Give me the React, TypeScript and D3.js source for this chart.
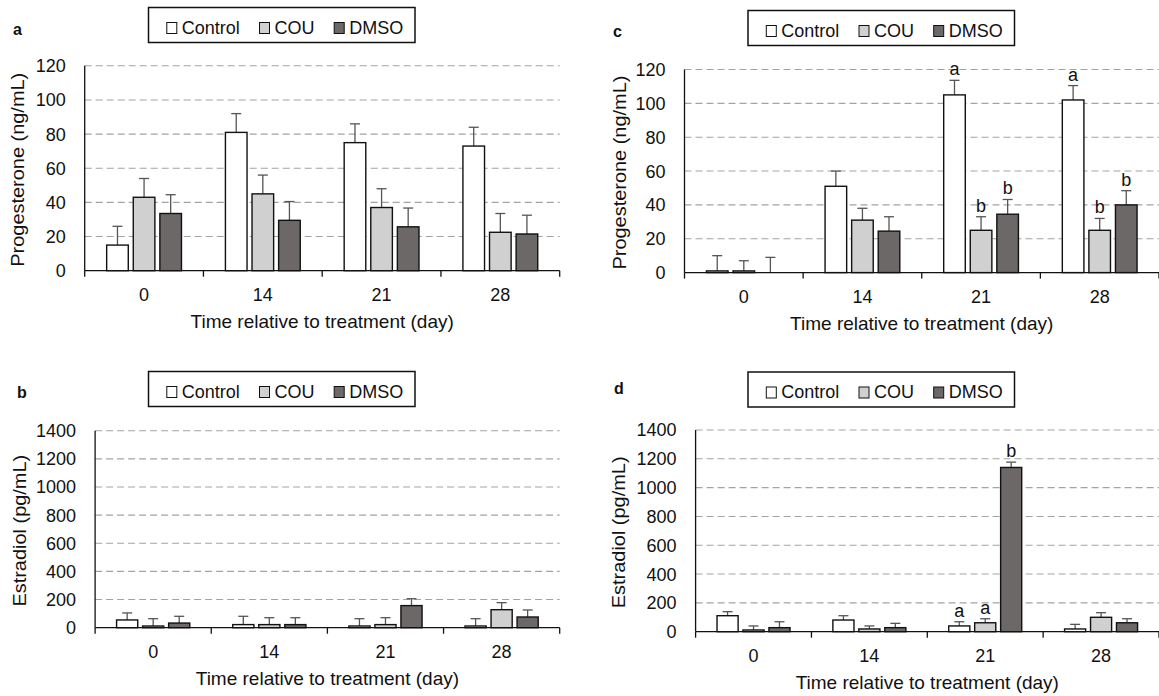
import React from "react";
import * as d3 from "d3";

// Time points and treatment groups shared by every panel
const days = ["0", "14", "21", "28"];
const groups = ["Control", "COU", "DMSO"];

// Panel a – progesterone (ng/mL), means and SE
const aControl = [15, 81, 75, 73];
const aCou = [43, 45, 37, 22.5];
const aDmso = [33.5, 29.5, 25.7, 21.5];
const aControlSe = [11, 11, 11, 11];
const aCouSe = [11, 11, 11, 11];
const aDmsoSe = [11, 11, 11, 11];

// Panel c – progesterone (ng/mL), means and SE
const cControl = [1, 51, 105, 102];
const cCou = [1, 31, 25, 25];
const cDmso = [0, 24.5, 34.5, 40];
const cControlSe = [9, 9, 8.6, 8.5];
const cCouSe = [6, 7, 8, 7];
const cDmsoSe = [9, 8.5, 8.7, 8.4];
const cControlSig = ["", "", "a", "a"];
const cCouSig = ["", "", "b", "b"];
const cDmsoSig = ["", "", "b", "b"];

// Panel b – estradiol (pg/mL), means and SE
const bControl = [55, 22, 12, 12];
const bCou = [12, 22, 22, 128];
const bDmso = [33, 22, 157, 76];
const bControlSe = [50, 59, 52, 52];
const bCouSe = [52, 49, 49, 50];
const bDmsoSe = [48, 49, 49, 50];

// Panel d – estradiol (pg/mL), means and SE
const dControl = [111, 81, 40, 19];
const dCou = [12, 19, 62, 100];
const dDmso = [28, 28, 1140, 62];
const dControlSe = [28, 30, 29, 32];
const dCouSe = [28, 21, 28, 32];
const dDmsoSe = [41, 30, 37, 28];
const dControlSig = ["", "", "a", ""];
const dCouSig = ["", "", "a", ""];
const dDmsoSig = ["", "", "b", ""];

const progTicks = [0, 20, 40, 60, 80, 100, 120];
const estTicks = [0, 200, 400, 600, 800, 1000, 1200, 1400];

const FONT = "'Liberation Sans', Arial, Helvetica, sans-serif";
const fills = ["#ffffff", "#d0d0d0", "#6c6867"];

type PanelProps = {
  letter: string;
  letterX: number;
  letterY: number;
  legendX: number;
  legendY: number;
  axisX: number;
  rightX: number;
  y0: number;
  yTop: number;
  yMax: number;
  ticks: number[];
  yTitle: string;
  yTitleX: number;
  means: number[][];
  ses: number[][];
  sig?: string[][];
};

function Legend({ x, y }: { x: number; y: number }) {
  const offs = [18.3, 111, 185.7];
  return (
    <g>
      <rect x={x} y={y} width={266.5} height={35} fill="#fff" stroke="#111" strokeWidth={1.5} />
      {groups.map((g, i) => (
        <g key={g}>
          <rect
            x={x + offs[i]}
            y={y + 15}
            width={10}
            height={11}
            fill={fills[i]}
            stroke="#111"
            strokeWidth={1}
          />
          <text
            x={x + offs[i] + 15}
            y={y + 26}
            fontFamily={FONT}
            fontSize={18}
            fill="#111"
          >
            {g}
          </text>
        </g>
      ))}
    </g>
  );
}

function Panel(p: PanelProps) {
  const x = d3.scaleBand<string>().domain(days).range([p.axisX, p.rightX]).padding(0);
  const y = d3.scaleLinear().domain([0, p.yMax]).range([p.y0, p.yTop]);
  const bw = x.bandwidth();
  const barW = bw * 0.182;
  const step = bw * 0.224;
  const boundaries = [...days.map((d) => x(d) as number), p.rightX];
  const midY = (p.y0 + p.yTop) / 2 + 1.5;
  const xMid = (p.axisX + p.rightX) / 2;

  return (
    <g>
      <text x={p.letterX} y={p.letterY} fontFamily={FONT} fontSize={16} fontWeight="bold" fill="#111">
        {p.letter}
      </text>
      <Legend x={p.legendX} y={p.legendY} />

      {/* dashed horizontal gridlines */}
      {p.ticks.slice(1).map((t) => (
        <line
          key={t}
          x1={p.axisX}
          x2={p.rightX}
          y1={y(t)}
          y2={y(t)}
          stroke="#a3a3a3"
          strokeWidth={1.1}
          strokeDasharray="7,4"
        />
      ))}

      {/* y tick labels */}
      {p.ticks.map((t) => (
        <text
          key={t}
          x={p.axisX - 19}
          y={y(t)}
          dy="0.36em"
          textAnchor="end"
          fontFamily={FONT}
          fontSize={18}
          fill="#111"
        >
          {t}
        </text>
      ))}

      {/* bars, error bars and significance letters */}
      {days.map((d, j) => {
        const cx = (x(d) as number) + bw / 2;
        return groups.map((g, i) => {
          const bx = cx + (i - 1) * step;
          const v = p.means[i][j];
          const top = y(v + p.ses[i][j]);
          const lab = p.sig ? p.sig[i][j] : "";
          return (
            <g key={d + g}>
              <line x1={bx} x2={bx} y1={y(v)} y2={top} stroke="#555" strokeWidth={1.3} />
              <line x1={bx - 5} x2={bx + 5} y1={top} y2={top} stroke="#555" strokeWidth={1.3} />
              <rect
                x={bx - barW / 2}
                y={y(v)}
                width={barW}
                height={Math.max(0, p.y0 - y(v))}
                fill={fills[i]}
                stroke="#111"
                strokeWidth={1.4}
              />
              {lab && (
                <text
                  x={bx}
                  y={top - 5}
                  textAnchor="middle"
                  fontFamily={FONT}
                  fontSize={18}
                  fill="#111"
                >
                  {lab}
                </text>
              )}
            </g>
          );
        });
      })}

      {/* axes */}
      <line x1={p.axisX} x2={p.axisX} y1={p.yTop} y2={p.y0} stroke="#111" strokeWidth={1.3} />
      <line x1={p.axisX} x2={p.rightX} y1={p.y0} y2={p.y0} stroke="#111" strokeWidth={1.3} />
      {boundaries.map((b, k) => (
        <line key={k} x1={b} x2={b} y1={p.y0} y2={p.y0 + 6} stroke="#111" strokeWidth={1.3} />
      ))}
      {days.map((d) => (
        <text
          key={d}
          x={(x(d) as number) + bw / 2}
          y={p.y0 + 30.5}
          textAnchor="middle"
          fontFamily={FONT}
          fontSize={18}
          fill="#111"
        >
          {d}
        </text>
      ))}
      <text
        x={xMid}
        y={p.y0 + 57.5}
        textAnchor="middle"
        fontFamily={FONT}
        fontSize={19}
        fill="#111"
      >
        Time relative to treatment (day)
      </text>
      <text
        transform={`translate(${p.yTitleX},${midY}) rotate(-90) scale(1.05,1)`}
        textAnchor="middle"
        dy="0.35em"
        fontFamily={FONT}
        fontSize={19}
        fill="#111"
      >
        {p.yTitle}
      </text>
    </g>
  );
}

export default function App() {
  return (
    <svg
      width={1159}
      height={696}
      style={{ position: "absolute", left: 0, top: 0, background: "#fff" }}
    >
      <rect width={1159} height={696} fill="#fff" />
      <Panel
        letter="a"
        letterX={13}
        letterY={35}
        legendX={148.5}
        legendY={7.5}
        axisX={84.7}
        rightX={559.7}
        y0={270.7}
        yTop={65.8}
        yMax={120}
        ticks={progTicks}
        yTitle="Progesterone (ng/mL)"
        yTitleX={17.5}
        means={[aControl, aCou, aDmso]}
        ses={[aControlSe, aCouSe, aDmsoSe]}
      />
      <Panel
        letter="c"
        letterX={613}
        letterY={36.5}
        legendX={748}
        legendY={10.5}
        axisX={684.5}
        rightX={1159}
        y0={272.6}
        yTop={69.5}
        yMax={120}
        ticks={progTicks}
        yTitle="Progesterone (ng/mL)"
        yTitleX={619.5}
        means={[cControl, cCou, cDmso]}
        ses={[cControlSe, cCouSe, cDmsoSe]}
        sig={[cControlSig, cCouSig, cDmsoSig]}
      />
      <Panel
        letter="b"
        letterX={17}
        letterY={398}
        legendX={148.5}
        legendY={371.5}
        axisX={95.1}
        rightX={559.7}
        y0={627.7}
        yTop={430.7}
        yMax={1400}
        ticks={estTicks}
        yTitle="Estradiol (pg/mL)"
        yTitleX={19.5}
        means={[bControl, bCou, bDmso]}
        ses={[bControlSe, bCouSe, bDmsoSe]}
      />
      <Panel
        letter="d"
        letterX={614}
        letterY={394}
        legendX={748}
        legendY={372}
        axisX={695.6}
        rightX={1159}
        y0={631.7}
        yTop={430}
        yMax={1400}
        ticks={estTicks}
        yTitle="Estradiol (pg/mL)"
        yTitleX={618.5}
        means={[dControl, dCou, dDmso]}
        ses={[dControlSe, dCouSe, dDmsoSe]}
        sig={[dControlSig, dCouSig, dDmsoSig]}
      />
    </svg>
  );
}
